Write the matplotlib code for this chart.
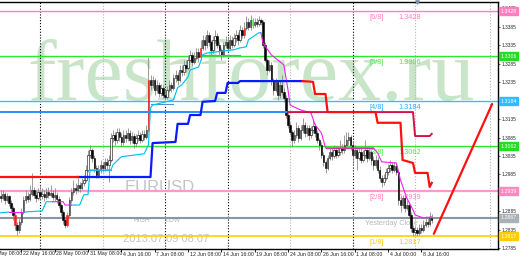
import numpy as np
import matplotlib
matplotlib.use("Agg")
import matplotlib.pyplot as plt
import matplotlib.transforms as mtrans

# ---------------- data ----------------
first_open = 1.2927
closes = [
1.2921,1.2932,1.2916,1.2927,1.2908,1.2894,1.2875,1.2848,1.2835,1.2856,
1.2883,1.2916,1.2927,1.2919,1.2932,1.2943,1.2930,1.2921,1.2938,1.2927,
1.2932,1.2924,1.2938,1.2930,1.2935,1.2924,1.2930,1.2919,1.2902,1.2883,
1.2862,1.2848,1.2875,1.2916,1.2938,1.2949,1.2943,1.2957,1.2949,1.2962,
1.2970,1.2997,1.3038,1.3052,1.3030,1.3003,1.2984,1.2997,1.3011,1.3003,
1.3019,1.3011,1.3024,1.3084,1.3092,1.3079,1.3100,1.3087,1.3073,1.3092,
1.3084,1.3098,1.3079,1.3089,1.3070,1.3084,1.3092,1.3079,1.3095,1.3087,
1.3106,1.3241,1.3228,1.3241,1.3214,1.3228,1.3206,1.3220,1.3201,1.3195,
1.3214,1.3228,1.3220,1.3247,1.3255,1.3241,1.3268,1.3263,1.3282,1.3274,
1.3295,1.3309,1.3290,1.3301,1.3317,1.3304,1.3328,1.3350,1.3336,1.3363,
1.3344,1.3323,1.3350,1.3360,1.3336,1.3323,1.3309,1.3336,1.3344,1.3328,
1.3350,1.3336,1.3355,1.3363,1.3350,1.3377,1.3363,1.3382,1.3398,1.3385,
1.3404,1.3390,1.3398,1.3393,1.3404,1.3398,1.3336,1.3295,1.3268,1.3282,
1.3241,1.3214,1.3236,1.3201,1.3228,1.3209,1.3192,1.3146,1.3119,1.3100,
1.3079,1.3092,1.3111,1.3084,1.3106,1.3119,1.3098,1.3111,1.3092,1.3106,
1.3117,1.3098,1.3079,1.3065,1.3038,1.3019,1.3003,1.3030,1.3046,1.3035,
1.3052,1.3038,1.3046,1.3057,1.3052,1.3065,1.3079,1.3087,1.3065,1.3038,
1.3052,1.3030,1.3046,1.3024,1.3038,1.3052,1.3030,1.3046,1.3024,1.3011,
1.3024,1.2997,1.2976,1.2965,1.2976,1.2992,1.3003,1.3011,1.2997,1.3008,
1.2992,1.2916,1.2902,1.2921,1.2894,1.2902,1.2875,1.2840,1.2829,1.2835,
1.2827,1.2840,1.2835,1.2848,1.2856,1.2851,1.2867,1.2862]
highs = [
1.2943,1.2943,1.2938,1.2935,1.2930,1.2916,1.2900,1.2883,1.2856,1.2867,
1.2894,1.2927,1.2943,1.2938,1.2957,1.2989,1.2951,1.2943,1.2949,1.2957,
1.2949,1.2943,1.2949,1.2951,1.2957,1.2943,1.2949,1.2938,1.2927,1.2908,
1.2889,1.2870,1.2883,1.2924,1.2949,1.2970,1.2962,1.2976,1.2965,1.2976,
1.2984,1.3011,1.3052,1.3065,1.3057,1.3038,1.3011,1.3011,1.3024,1.3019,
1.3030,1.3030,1.3038,1.3098,1.3106,1.3100,1.3111,1.3111,1.3098,1.3106,
1.3106,1.3111,1.3106,1.3100,1.3098,1.3095,1.3106,1.3100,1.3106,1.3106,
1.3119,1.3304,1.3255,1.3252,1.3247,1.3241,1.3236,1.3230,1.3228,1.3214,
1.3225,1.3241,1.3236,1.3257,1.3268,1.3263,1.3282,1.3282,1.3295,1.3295,
1.3309,1.3323,1.3317,1.3317,1.3328,1.3328,1.3350,1.3363,1.3360,1.3377,
1.3371,1.3350,1.3360,1.3377,1.3369,1.3344,1.3328,1.3344,1.3360,1.3355,
1.3363,1.3360,1.3369,1.3377,1.3371,1.3390,1.3385,1.3398,1.3415,1.3409,
1.3417,1.3409,1.3409,1.3409,1.3415,1.3409,1.3404,1.3344,1.3301,1.3295,
1.3290,1.3247,1.3247,1.3241,1.3241,1.3255,1.3220,1.3201,1.3154,1.3127,
1.3106,1.3106,1.3127,1.3119,1.3119,1.3138,1.3127,1.3119,1.3119,1.3117,
1.3133,1.3125,1.3106,1.3084,1.3073,1.3046,1.3024,1.3038,1.3057,1.3057,
1.3065,1.3062,1.3062,1.3079,1.3068,1.3092,1.3100,1.3100,1.3092,1.3073,
1.3065,1.3060,1.3057,1.3057,1.3052,1.3079,1.3060,1.3060,1.3052,1.3035,
1.3038,1.3033,1.3008,1.2984,1.2986,1.3003,1.3014,1.3024,1.3019,1.3019,
1.3016,1.2997,1.2927,1.2930,1.2930,1.2916,1.2911,1.2883,1.2848,1.2846,
1.2843,1.2851,1.2851,1.2862,1.2873,1.2867,1.2883,1.2878]
lows = [
1.2911,1.2916,1.2905,1.2911,1.2900,1.2883,1.2862,1.2835,1.2821,1.2827,
1.2848,1.2878,1.2908,1.2911,1.2913,1.2927,1.2921,1.2911,1.2916,1.2919,
1.2919,1.2913,1.2919,1.2921,1.2924,1.2916,1.2913,1.2908,1.2894,1.2873,
1.2851,1.2840,1.2843,1.2870,1.2908,1.2930,1.2932,1.2938,1.2938,1.2943,
1.2954,1.2965,1.2992,1.3030,1.3019,1.2992,1.2976,1.2976,1.2989,1.2992,
1.2995,1.2997,1.2965,1.3019,1.3073,1.3065,1.3070,1.3076,1.3062,1.3065,
1.3073,1.3076,1.3068,1.3070,1.3057,1.3060,1.3076,1.3070,1.3073,1.3079,
1.3081,1.3100,1.3214,1.3220,1.3201,1.3206,1.3195,1.3198,1.3192,1.3187,
1.3190,1.3209,1.3209,1.3214,1.3236,1.3228,1.3236,1.3252,1.3255,1.3263,
1.3268,1.3290,1.3279,1.3285,1.3295,1.3290,1.3295,1.3323,1.3323,1.3328,
1.3333,1.3309,1.3314,1.3341,1.3328,1.3309,1.3295,1.3304,1.3328,1.3317,
1.3323,1.3328,1.3331,1.3344,1.3336,1.3344,1.3355,1.3355,1.3377,1.3377,
1.3377,1.3382,1.3385,1.3385,1.3388,1.3390,1.3328,1.3290,1.3255,1.3263,
1.3228,1.3201,1.3209,1.3187,1.3192,1.3201,1.3182,1.3138,1.3111,1.3092,
1.3060,1.3070,1.3084,1.3073,1.3079,1.3098,1.3087,1.3089,1.3079,1.3084,
1.3098,1.3087,1.3070,1.3052,1.3030,1.3008,1.2989,1.2997,1.3024,1.3024,
1.3030,1.3030,1.3033,1.3038,1.3041,1.3043,1.3057,1.3065,1.3052,1.3011,
1.3030,1.2997,1.3024,1.3016,1.3019,1.3030,1.3019,1.3024,1.3011,1.2997,
1.3003,1.2989,1.2965,1.2951,1.2957,1.2970,1.2984,1.2992,1.2989,1.2992,
1.2984,1.2902,1.2883,1.2894,1.2883,1.2889,1.2867,1.2829,1.2818,1.2821,
1.2818,1.2821,1.2827,1.2829,1.2843,1.2843,1.2846,1.2854]
assert len(closes) == len(highs) == len(lows) == 208

red_bars = [7, 32, 71, 96, 117]
lime_bars = [121]

# Murray levels
murray_names = ["[6/8]", "[5/8]", "[4/8]", "[3/8]", "[2/8]", "[1/8]"]
murray_prices = [1.3428, 1.3306, 1.3184, 1.3062, 1.2939, 1.2817]
murray_colors = ["#ff80c0", "#2ee82e", "#38bfff", "#2ee82e", "#ff98cc", "#ffd000"]
murray_text_colors = ["#ff80c0", "#44ee44", "#33aaff", "#44ee44", "#ff80c0", "#ffcc00"]
murray_lw = [1.0, 1.0, 1.0, 1.0, 1.6, 1.2]
yesterday_close = 1.2867

# fast trailing line (cyan up / magenta down)
fast_bars = [0,4,11,20,22,25,30,31,34,38,40,42,43,53,54,58,69,71,72,73,83,85,87,90,91,95,96,97,99,112,
             115,118,119,124,125,126,130,136,138,139,144,149,151,154,156,179,181,183,190,192,195,198,199,203,207]
fast_prices = [1.2881,1.2883,1.2883,1.2886,1.2911,1.2911,1.2911,1.2902,1.2902,1.2902,
               1.2930,1.2930,1.2997,1.2997,1.3011,1.3033,1.3041,1.3065,1.3165,1.3173,
               1.3187,1.3220,1.3228,1.3249,1.3268,1.3276,1.3290,1.3309,1.3314,1.3323,
               1.3328,1.3331,1.3350,1.3369,1.3369,1.3341,1.3309,1.3282,1.3214,1.3173,
               1.3160,1.3152,1.3119,1.3098,1.3057,1.3057,1.3043,1.3019,1.3016,1.2970,
               1.2921,1.2889,1.2875,1.2867,1.2870]
fast_up_ranges = [(0, 4), (11, 25), (34, 125)]
fast_down_ranges = [(4, 11), (25, 34), (125, 207)]

# auxiliary thin segments
aux_start = [42, 72, 97, 156]
aux_end = [53, 83, 115, 179]
aux_level = [1.2997, 1.3176, 1.3309, 1.3057]
aux_color = ["#5a8fbf", "#5a8fbf", "#7a98b4", "#c8407a"]

# slow stepped line (blue up / red down)
slow_bars = [0,37,72,73,84,85,90,91,96,97,103,104,108,109,114,115,145,150,151,156,
             157,180,181,192,193,198,199,205,206,207]
slow_prices = [1.2978,1.2978,1.2978,1.3070,1.3073,1.3122,1.3122,1.3146,1.3146,1.3182,
               1.3184,1.3206,1.3206,1.3233,1.3233,1.3238,1.3238,1.3236,1.3203,1.3203,
               1.3154,1.3154,1.3125,1.3125,1.3024,1.3016,1.2989,1.2989,1.2951,1.2962]
slow_up_ranges = [(37, 145)]
slow_down_ranges = [(0, 37), (145, 207)]

# second level line (dodger blue / crimson)
lvl2_bars = [0, 138, 198, 199, 206, 207]
lvl2_prices = [1.3154, 1.3154, 1.3154, 1.3089, 1.3089, 1.3095]

# forecast line
fc_bars = [208, 236]
fc_prices = [1.2824, 1.3176]

# axes
y_ticks = [1.3435,1.3385,1.3335,1.3285,1.3235,1.3185,1.3135,1.3085,1.3035,1.2985,
           1.2935,1.2885,1.2835,1.2785]
date_bars = [-6, 10, 26, 42, 58, 74, 90, 106, 122, 138, 154, 170, 186, 202]
date_labels = ["20 May 08:00", "22 May 16:00", "28 May 00:00", "31 May 08:00", "4 Jun 16:00",
               "7 Jun 08:00", "12 Jun 08:00", "14 Jun 16:00", "19 Jun 08:00", "24 Jun 08:00",
               "26 Jun 16:00", "1 Jul 08:00", "4 Jul 00:00", "8 Jul 16:00"]
vgrid_black = [19, 79, 109, 169]
vgrid_gray = [49, 139, 199, 235]

# ---------------- figure ----------------
W, H = 520, 260
fig = plt.figure(figsize=(W / 100, H / 100), dpi=100)
fig.patch.set_facecolor("white")
ax = fig.add_axes([0, 11 / H, 498 / W, 247 / H])
ax.set_facecolor("white")
ax.set_xlim(-0.24, 238.8)
ax.set_ylim(1.27828, 1.34524)

SANS = "Liberation Sans"

def fpx(x, y):
    return x / W, 1 - y / H

# watermark
ax.text(*fpx(27, 100), "freshforex.ru", transform=fig.transFigure, fontsize=62,
        family="Liberation Serif", color="#c9e5c9", ha="left", va="baseline", zorder=0)

# vertical separators
for b in vgrid_black:
    ax.axvline(b, color="black", lw=0.8, ls=(0, (1, 1.6)), zorder=1)
for b in vgrid_gray:
    ax.axvline(b, color="#b4b4b4", lw=0.8, ls=(0, (1, 1.6)), zorder=1)

# chart texts
ax.text(*fpx(125, 188), "EURUSD", transform=fig.transFigure, fontsize=12, family=SANS,
        color="#c4c4c4", ha="left", va="center", zorder=1)
ax.text(*fpx(123, 239.5), "2013.07.09 08:07", transform=fig.transFigure, fontsize=8, family=SANS,
        color="#c4c4c4", ha="left", va="center", zorder=1)
ax.text(*fpx(133, 220), "HIGH", transform=fig.transFigure, fontsize=4.8, family=SANS,
        color="#b8b8b8", ha="left", va="center", zorder=1)
ax.text(*fpx(165, 220), "LOW", transform=fig.transFigure, fontsize=4.8, family=SANS,
        color="#b8b8b8", ha="left", va="center", zorder=1)

# level lines
blend_ax_data = mtrans.blended_transform_factory(ax.transAxes, ax.transData)
for name, p, c, tc, lw in zip(murray_names, murray_prices, murray_colors, murray_text_colors, murray_lw):
    ax.axhline(p, color=c, lw=lw, zorder=2)
    ax.annotate(name, xy=(370 / 498, p), xycoords=blend_ax_data, xytext=(0, -1.8),
                textcoords="offset points", ha="left", va="top", fontsize=5.3,
                family=SANS, color=tc, zorder=2)
    ax.annotate(f"{p:.4f}", xy=(398 / 498, p), xycoords=blend_ax_data, xytext=(0, -1.8),
                textcoords="offset points", ha="left", va="top", fontsize=5.3,
                family=SANS, color=tc, zorder=2)
ax.axhline(yesterday_close, color="#8a96a2", lw=1.5, zorder=2)
ax.annotate("Yesterday Close", xy=(365 / 498, yesterday_close), xycoords=blend_ax_data,
            xytext=(0, -1.5), textcoords="offset points", ha="left", va="top",
            fontsize=5.3, family=SANS, color="#b8b8b8", zorder=2)

# candles
x = np.arange(len(closes))
c_arr = np.array(closes)
o_arr = np.array([first_open] + closes[:-1])
h_arr = np.array(highs)
l_arr = np.array(lows)
ax.vlines(x, l_arr, h_arr, color="#8c8c8c", lw=0.6, zorder=3)
bottoms = np.minimum(o_arr, c_arr)
heights = np.maximum(np.abs(c_arr - o_arr), 0.00025)
face = ["white" if c >= o else "black" for o, c in zip(o_arr, c_arr)]
edge = ["black"] * len(closes)
for i in red_bars:
    face[i] = "#ff1a1a"
    edge[i] = "#ff1a1a"
for i in lime_bars:
    face[i] = "#33ff33"
    edge[i] = "#33ff33"
ax.bar(x, heights, bottom=bottoms, width=0.7, color=face, edgecolor=edge, lw=0.4, zorder=3)

# helper for partial polyline
def part(bars, prices, lo, hi, **kw):
    bb = [b for b in bars if lo <= b <= hi]
    pp = [p for b, p in zip(bars, prices) if lo <= b <= hi]
    ax.plot(bb, pp, **kw)

# aux thin segments
for s, e, lv, col in zip(aux_start, aux_end, aux_level, aux_color):
    ax.plot([s, e], [lv, lv], color=col, lw=0.8, zorder=4)

# fast line
for lo, hi in fast_up_ranges:
    part(fast_bars, fast_prices, lo, hi, color="#00c4ec", lw=0.85, zorder=4)
for lo, hi in fast_down_ranges:
    part(fast_bars, fast_prices, lo, hi, color="#f020f0", lw=0.8, zorder=4)

# second level line
part(lvl2_bars, lvl2_prices, 0, 138, color="#2a8cff", lw=1.4, zorder=4)
part(lvl2_bars, lvl2_prices, 138, 207, color="#d41444", lw=1.4, zorder=4)

# slow stepped line
for lo, hi in slow_up_ranges:
    part(slow_bars, slow_prices, lo, hi, color="#0a1cff", lw=1.6, zorder=5)
for lo, hi in slow_down_ranges:
    part(slow_bars, slow_prices, lo, hi, color="#ff1010", lw=1.6, zorder=5)

# forecast
ax.plot(fc_bars, fc_prices, color="#ff1010", lw=1.6, zorder=5, solid_capstyle="round")

# spines / axes
ax.spines["left"].set_visible(False)
for s in ["top", "right", "bottom"]:
    ax.spines[s].set_color("black")
    ax.spines[s].set_linewidth(1.0)
ax.yaxis.tick_right()
ax.set_yticks(y_ticks)
ax.set_yticklabels([f"{t:.4f}" for t in y_ticks])
ax.tick_params(axis="y", labelsize=3.4, length=1.2, width=0.5, pad=1.5, colors="#222222")
for lab in ax.get_yticklabels():
    lab.set_family(SANS)
ax.set_xticks([b for b in date_bars if b >= 0])
ax.set_xticklabels([])
ax.tick_params(axis="x", length=2, width=0.6, direction="out", colors="black")
blend_data_ax = mtrans.blended_transform_factory(ax.transData, ax.transAxes)
for b, lab in zip(date_bars, date_labels):
    ax.text(b + 0.8, -5 / 247, lab, transform=blend_data_ax, fontsize=3.8, family=SANS,
            color="#222222", ha="left", va="center", clip_on=False)

# price boxes on right axis
box_prices = murray_prices + [yesterday_close]
box_colors = ["#ff7fbf", "#22dd22", "#33bbff", "#22dd22", "#ff88c0", "#ffcc00", "#a8b0b8"]
for p, col in zip(box_prices, box_colors):
    ax.annotate(f"{p:.4f}", xy=(1.0, p), xycoords=blend_ax_data, xytext=(1.6, 0),
                textcoords="offset points", ha="left", va="center", fontsize=3.8,
                family=SANS, color="white", annotation_clip=False, zorder=6,
                bbox=dict(boxstyle="square,pad=0.3", fc=col, ec=col))

# small shift marker at top
ax.plot([417 / 498], [1.0], marker="v", ms=2.5, color="#8090a0", transform=ax.transAxes,
        clip_on=False, zorder=6)

fig.savefig("out.png", dpi=100)
